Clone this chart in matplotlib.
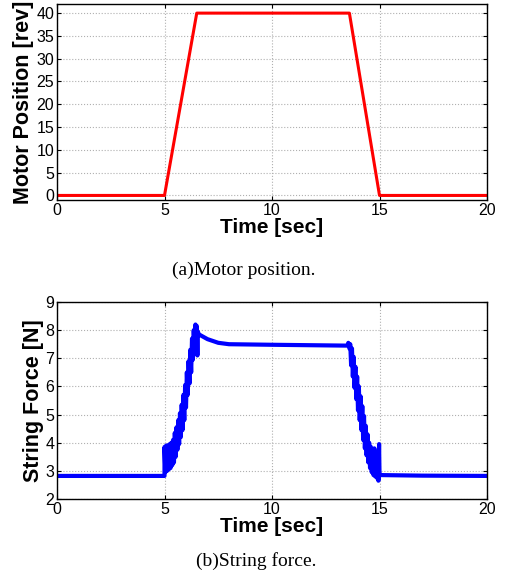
import matplotlib
matplotlib.use("Agg")
import matplotlib.pyplot as plt

plt.rcParams['font.family'] = 'Liberation Sans'
plt.rcParams['font.size'] = 11

# (a) motor position [rev]
pos_t = [0, 5.0, 6.5, 13.6, 15.0, 20]
pos_rev = [0, 0, 40, 40, 0, 0]

# (b) string force [N] (upper / lower edges of the band)
force_t = [0, 3.5, 5.0,
           5.00, 5.04, 5.08, 5.12, 5.16, 5.20, 5.24, 5.28, 5.32, 5.36, 5.40,
           5.44, 5.48, 5.52, 5.56, 5.60, 5.64, 5.68, 5.72, 5.76, 5.80, 5.84,
           5.88, 5.92, 5.96, 6.00, 6.04, 6.08, 6.12, 6.16, 6.20, 6.24, 6.28,
           6.32, 6.36, 6.40, 6.44, 6.48, 6.50, 6.53, 6.55, 6.60,
           7.0, 7.5, 8.0, 10.0, 13.5,
           13.55, 13.60, 13.64, 13.68, 13.72, 13.76, 13.80, 13.84, 13.88,
           13.92, 13.96, 14.00, 14.04, 14.08, 14.12, 14.16, 14.20, 14.24,
           14.28, 14.32, 14.36, 14.40, 14.44, 14.48, 14.52, 14.56, 14.60,
           14.64, 14.68, 14.72, 14.76, 14.80, 14.84, 14.88, 14.92, 14.95,
           14.98, 15.00, 15.05, 17.0, 20.0]
force_n = [2.82, 2.82, 2.82,
           3.85, 2.95, 3.90, 3.00, 3.90, 3.05, 3.95, 3.10, 4.00, 3.20, 4.10,
           3.30, 4.35, 3.50, 4.55, 3.75, 4.80, 3.95, 5.05, 4.20, 5.35, 4.45,
           5.70, 4.80, 6.05, 5.25, 6.50, 5.70, 6.90, 6.10, 7.30, 6.50, 7.70,
           6.95, 8.00, 7.35, 8.20, 7.15, 8.15, 7.10, 7.95, 7.85,
           7.68, 7.55, 7.50, 7.48, 7.45,
           7.55, 7.35, 7.50, 6.75, 7.35, 6.35, 7.05, 5.95, 6.70,
           5.55, 6.35, 5.15, 6.00, 4.80, 5.65, 4.45, 5.30, 4.10,
           4.95, 3.80, 4.60, 3.55, 4.30, 3.30, 4.00, 3.10, 3.85,
           2.95, 3.75, 2.85, 3.80, 2.80, 3.65, 2.75, 3.45, 2.65,
           3.95, 2.90, 2.85, 2.83, 2.82]

W, H = 506, 581
fig = plt.figure(figsize=(W / 100, H / 100), dpi=100)


def style(ax):
    ax.set_xlim(0, 20)
    ax.set_xticks([0, 5, 10, 15, 20])
    ax.grid(True, linestyle=':', color='#b0b0b0', linewidth=0.8)
    ax.tick_params(direction='in', top=True, right=True, length=3,
                   labelsize=11.5, pad=2)
    for s in ax.spines.values():
        s.set_linewidth(1.0)
    ax.set_xlabel('Time [sec]', fontsize=15, fontweight='bold', labelpad=0)


ax1 = fig.add_axes([57 / W, 1 - 200 / H, 430 / W, 196 / H])
ax1.plot(pos_t, pos_rev, color='#ff0000', linewidth=2.2)
ax1.set_ylim(-1, 42)
ax1.set_yticks(range(0, 41, 5))
style(ax1)
ax1.set_ylabel('Motor Position [rev]', fontsize=15.5, fontweight='bold', labelpad=2)

ax2 = fig.add_axes([57 / W, 1 - 499 / H, 430 / W, 197 / H])
ax2.plot(force_t, force_n, color='#0000ff', linewidth=3.0)
ax2.set_ylim(2, 9)
ax2.set_yticks(range(2, 10))
style(ax2)
ax2.set_ylabel('String Force [N]', fontsize=15.5, fontweight='bold', labelpad=1)

fig.text(244 / W, 1 - 270 / H, '(a)Motor position.', ha='center', va='center',
         family='Liberation Serif', fontsize=14)
fig.text(256 / W, 1 - 561 / H, '(b)String force.', ha='center', va='center',
         family='Liberation Serif', fontsize=14)

fig.savefig('out.png', dpi=100)
